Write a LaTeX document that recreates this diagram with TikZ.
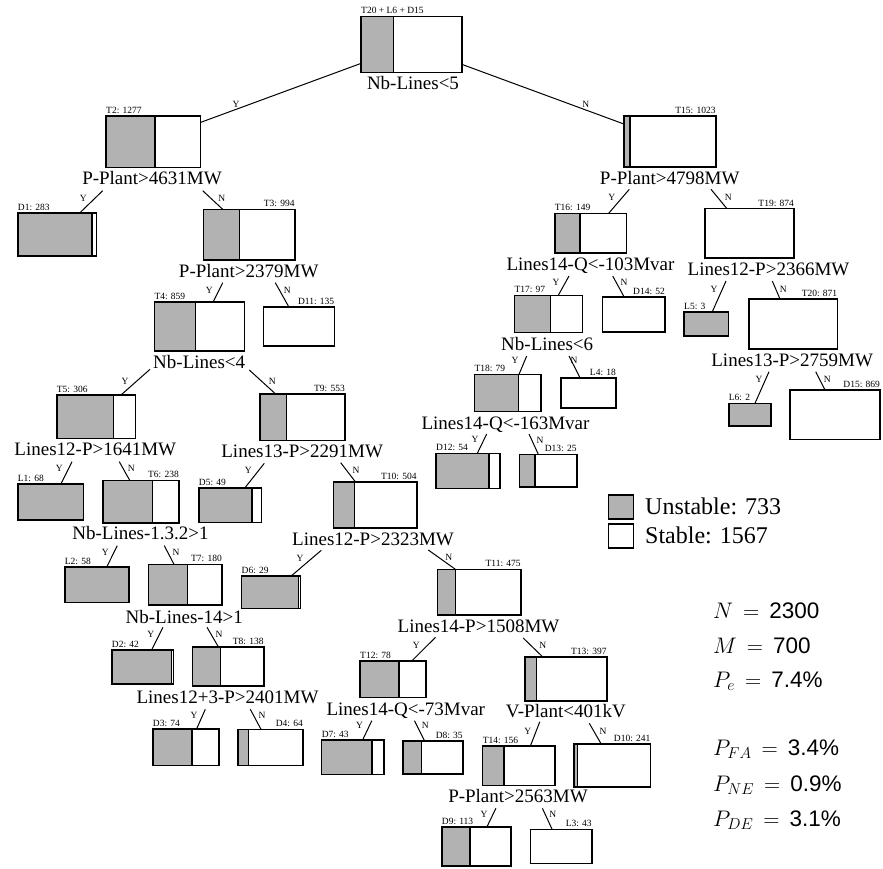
\documentclass[tikz,border=0pt]{standalone}
\usepackage{fix-cm}
\usepackage[no-math]{fontspec}
\setmainfont{Liberation Serif}
\setsansfont{Liberation Sans}
\usetikzlibrary{calc}
\definecolor{unst}{gray}{0.70}
\tikzset{
  tbox/.style={draw, line width=1.6pt, fill=white, inner sep=0pt, outer sep=0pt, anchor=north west},
  greypart/.style={path picture={
    \fill[unst] (path picture bounding box.north west) rectangle ([xshift=#1 pt]path picture bounding box.south west);
    \draw[line width=1.4pt] ([xshift=#1 pt]path picture bounding box.north west) -- ([xshift=#1 pt]path picture bounding box.south west);}},
  tag/.style={font=\fontsize{9.5}{10}\selectfont, inner sep=0pt},
  cond/.style={font=\fontsize{19}{22}\selectfont, inner sep=0pt, text height=13pt, text depth=0pt},
  yn/.style={font=\fontsize{9.5}{10}\selectfont, inner sep=0pt},
  edge/.style={line width=1pt},
  stat/.style={font=\fontsize{22.5}{26}\selectfont, inner sep=0pt, anchor=base west},
  legbox/.style={draw, line width=1.4pt, inner sep=0pt, outer sep=0pt, anchor=north west, minimum width=25pt, minimum height=24pt},
  legtext/.style={font=\fontsize{24}{28}\selectfont, inner sep=0pt, anchor=west, text height=16pt, text depth=0pt}
}
% tree box: name, left, top, right, bottom, x of the grey/white split
\newcommand\tnode[6]{%
  \pgfmathsetmacro\bw{#4-#2}\pgfmathsetmacro\bh{#5-#3}\pgfmathsetmacro\gw{#6-#2}%
  \node[tbox, minimum width=\bw pt, minimum height=\bh pt, greypart=\gw] (#1) at (#2,#3) {};}
% sample counts above a box, left or right aligned
\newcommand\ltag[2]{\node[tag, anchor=base west] (t-#1) at ([yshift=2.5pt]#1.north west) {#2};}
\newcommand\rtag[2]{\node[tag, anchor=base east] (t-#1) at ([yshift=2.5pt]#1.north east) {#2};}
% branch: child, start point, offset on child's top edge, answer, answer position
\newcommand\branch[5]{%
  \coordinate (s-#1) at (#2);
  \draw[edge] (s-#1) -- ([xshift=#3pt]#1.north west);
  \node[yn] (yn-#1) at (#5) {#4};}
% one line of the summary figures
\newcommand\statline[2]{$#1 \,=\, \mbox{\sffamily #2}$}
\begin{document}
\begin{tikzpicture}[x=1pt,y=-1pt]
\useasboundingbox (0,0) rectangle (883,868);

% ---------- boxes ----------
\tnode{root}{361}{16.3}{462}{72.5}{393.3}
\tnode{T2}{106}{115.7}{200.3}{167.3}{155}
\tnode{D1}{17.7}{212.7}{96.3}{256}{92}
\tnode{T3}{203.3}{209.3}{294.7}{259.7}{239.7}
\tnode{T4}{154.3}{301.7}{244.3}{351}{195.7}
\tnode{D11}{263.3}{306.7}{334.3}{346}{263.3}
\tnode{T5}{56.7}{395}{135.3}{438.3}{113.7}
\tnode{T9}{260}{393.7}{345}{440.3}{286.3}
\tnode{L1}{17.7}{483.7}{83.3}{519.7}{83.3}
\tnode{T6}{103}{480.3}{179}{522.7}{152.3}
\tnode{D5}{198.7}{487.7}{261.3}{522.3}{252}
\tnode{T10}{333.3}{481.7}{416.7}{528}{354.7}
\tnode{L2}{64.7}{567}{129}{602.3}{129}
\tnode{T7}{148.3}{564.3}{222}{605}{187.7}
\tnode{D6}{241.5}{576}{300.5}{608.5}{298.5}
\tnode{T11}{437.6}{569.3}{520.8}{615}{455.4}
\tnode{D2}{111.7}{649.7}{173.3}{684}{171.3}
\tnode{T8}{192.3}{646.7}{263.7}{686}{220.7}
\tnode{D3}{152.7}{728.7}{218.7}{765.3}{192}
\tnode{D4}{238}{729.3}{303}{765.3}{248.7}
\tnode{T12}{360}{660.7}{426}{697.3}{399}
\tnode{T13}{525}{656.7}{606.7}{701}{536.7}
\tnode{D7}{321.6}{740}{384}{774.3}{372.1}
\tnode{D8}{403}{741}{462.9}{773.7}{421.6}
\tnode{T14}{482.6}{745.7}{555.1}{785.3}{503.8}
\tnode{D10}{574}{744}{650.6}{786.7}{577.3}
\tnode{D9}{441.7}{826.7}{510.8}{865.7}{469.9}
\tnode{L3}{530.5}{829.3}{591.9}{863.3}{530.5}
\tnode{T15}{624}{116}{715.7}{166.7}{630}
\tnode{T16}{554.7}{213.3}{626.3}{252.7}{580}
\tnode{T19}{704.5}{208.5}{794}{258}{705.5}
\tnode{T17}{514.3}{295.3}{582.3}{332.3}{550.3}
\tnode{D14}{602.3}{296.7}{665}{332}{602.3}
\tnode{L5}{684}{311.7}{728.3}{336}{728.3}
\tnode{T20}{748.3}{299}{837.3}{348.7}{749.3}
\tnode{T18}{474.3}{374.3}{541}{411.3}{518.3}
\tnode{L4}{560.7}{377.7}{616}{408}{560.7}
\tnode{L6}{728.7}{403.3}{770.7}{426}{770.7}
\tnode{D15}{790}{390}{880}{439.3}{790}
\tnode{D12}{436}{453.3}{500}{488.3}{489}
\tnode{D13}{519.3}{454.3}{576.7}{486.7}{535}

% ---------- counts ----------
\ltag{root}{T20 + L6 + D15}
\ltag{T2}{T2: 1277}
\ltag{D1}{D1: 283}
\rtag{T3}{T3: 994}
\ltag{T4}{T4: 859}
\rtag{D11}{D11: 135}
\ltag{T5}{T5: 306}
\rtag{T9}{T9: 553}
\ltag{L1}{L1: 68}
\rtag{T6}{T6: 238}
\ltag{D5}{D5: 49}
\rtag{T10}{T10: 504}
\ltag{L2}{L2: 58}
\rtag{T7}{T7: 180}
\ltag{D6}{D6: 29}
\rtag{T11}{T11: 475}
\ltag{D2}{D2: 42}
\rtag{T8}{T8: 138}
\ltag{D3}{D3: 74}
\rtag{D4}{D4: 64}
\ltag{T12}{T12: 78}
\rtag{T13}{T13: 397}
\ltag{D7}{D7: 43}
\rtag{D8}{D8: 35}
\ltag{T14}{T14: 156}
\rtag{D10}{D10: 241}
\ltag{D9}{D9: 113}
\rtag{L3}{L3: 43}
\rtag{T15}{T15: 1023}
\ltag{T16}{T16: 149}
\rtag{T19}{T19: 874}
\ltag{T17}{T17: 97}
\rtag{D14}{D14: 52}
\ltag{L5}{L5: 3}
\rtag{T20}{T20: 871}
\ltag{T18}{T18: 79}
\rtag{L4}{L4: 18}
\ltag{L6}{L6: 2}
\rtag{D15}{D15: 869}
\ltag{D12}{D12: 54}
\rtag{D13}{D13: 25}

% ---------- split conditions ----------
\node[cond] (q-root) at (413,83.3) {Nb-Lines<5};
\node[cond] (q-T2) at (152,178) {P-Plant>4631MW};
\node[cond] (q-T3) at (248.7,270.7) {P-Plant>2379MW};
\node[cond] (q-T4) at (199.2,361.7) {Nb-Lines<4};
\node[cond] (q-T5) at (95.3,449) {Lines12-P>1641MW};
\node[cond] (q-T9) at (302.2,451.3) {Lines13-P>2291MW};
\node[cond] (q-T6) at (140.5,533.3) {Nb-Lines-1.3.2>1};
\node[cond] (q-T10) at (373,539.3) {Lines12-P>2323MW};
\node[cond] (q-T7) at (184.3,616.7) {Nb-Lines-14>1};
\node[cond] (q-T8) at (227.5,696.7) {Lines12+3-P>2401MW};
\node[cond] (q-T11) at (478.5,626) {Lines14-P>1508MW};
\node[cond] (q-T12) at (405.8,709.3) {Lines14-Q<-73Mvar};
\node[cond] (q-T13) at (565.8,711) {V-Plant<401kV};
\node[cond] (q-T14) at (518,796) {P-Plant>2563MW};
\node[cond] (q-T15) at (669.7,178.3) {P-Plant>4798MW};
\node[cond] (q-T16) at (590.5,264.3) {Lines14-Q<-103Mvar};
\node[cond] (q-T19) at (768.5,268.7) {Lines12-P>2366MW};
\node[cond] (q-T17) at (547.2,344) {Nb-Lines<6};
\node[cond] (q-T20) at (792.2,360) {Lines13-P>2759MW};
\node[cond] (q-T18) at (505.5,423.3) {Lines14-Q<-163Mvar};

% ---------- branches ----------
\draw[edge] ([yshift=-19pt]root.west) -- ([yshift=19pt]T2.east);
\node[yn] (yn-T2) at (236,104) {Y};
\draw[edge] ([yshift=-20pt]root.east) -- ([yshift=17.3pt]T15.west);
\node[yn] (yn-T15) at (585.7,104.3) {N};

\branch{D1}{102.7,190.7}{62.3}{Y}{83.3,198.7}
\branch{T3}{202.7,190.7}{19.4}{N}{221.7,198.7}
\branch{T4}{222.7,282.7}{59}{Y}{209.3,290.7}
\branch{D11}{275.3,282.7}{25.4}{N}{287.3,290.7}
\branch{T5}{150,369.3}{64.3}{Y}{125,381}
\branch{T9}{249.3,370}{15.3}{N}{272.3,381}
\branch{L1}{72,461.7}{43.3}{Y}{59.3,468.7}
\branch{T6}{119.3,461.7}{26.7}{N}{131.3,468.7}
\branch{D5}{264.3,463.3}{46.3}{Y}{248.3,470.7}
\branch{T10}{340.7,462.7}{22}{N}{356,470.7}
\branch{L2}{117.3,545.7}{42}{Y}{105.3,552.3}
\branch{T7}{164.3,545.7}{25.7}{N}{176,552.3}
\branch{D6}{321.3,550.3}{49.7}{Y}{300,558.3}
\branch{T11}{428.3,550}{17.8}{N}{448.7,557.3}
\branch{D2}{163,627.3}{40}{Y}{150.7,634.3}
\branch{T8}{207,627.3}{26}{N}{219,634.3}
\branch{D3}{205.3,709.3}{44}{Y}{194,715}
\branch{D4}{250.3,709.3}{23}{N}{262,715}
\branch{T12}{435.5,637.3}{52}{Y}{416.2,645.7}
\branch{T13}{523.2,638}{17.5}{N}{542.7,645}
\branch{D7}{371.8,720.7}{41}{Y}{359.5,725.7}
\branch{D8}{414.5,720.7}{21.6}{N}{425.3,725.7}
\branch{T14}{539.8,721.7}{47.9}{Y}{527.9,731}
\branch{D10}{589.3,723.3}{27.2}{N}{603,731.7}
\branch{D9}{495.9,808.3}{45.3}{Y}{484,814}
\branch{L3}{542.4,808.3}{21.6}{N}{552.8,814}
\branch{T16}{629.3,189.3}{54}{Y}{611.7,197.3}
\branch{T19}{711,189.3}{22.3}{N}{728.3,197.3}
\branch{T17}{569,276}{44}{Y}{556,282}
\branch{D14}{612.7,276}{21.7}{N}{624,282.7}
\branch{L5}{726,281}{28.3}{Y}{714,289.3}
\branch{T20}{772.3,281}{31.7}{N}{783.3,289.3}
\branch{T18}{526.7,356}{44.7}{Y}{515,360.7}
\branch{L4}{569,356}{19.3}{N}{574,360.7}
\branch{L6}{769,371.7}{26.3}{Y}{759,379.3}
\branch{D15}{815.7,371.7}{35}{N}{827.3,379.3}
\branch{D12}{486.7,434}{41.3}{Y}{475,439.3}
\branch{D13}{529,434}{19}{N}{540,440}

% ---------- legend ----------
\node[legbox, fill=unst] (kU) at (608.3,495) {};
\node[legbox, fill=white] (kS) at (608.3,524) {};
\node[legtext] (kUt) at (645,506.5) {Unstable: 733};
\node[legtext] (kSt) at (645,535.5) {Stable: 1567};

% ---------- statistics ----------
\node[stat] (sN) at (713,618.3) {\statline{N}{2300}};
\node[stat] (sM) at (713,653.3) {\statline{M}{700}};
\node[stat] (sPe) at (713,687) {\statline{P_e}{7.4\%}};
\node[stat] (sFA) at (713,755.5) {\statline{P_{FA}}{3.4\%}};
\node[stat] (sNE) at (713,791.5) {\statline{P_{NE}}{0.9\%}};
\node[stat] (sDE) at (713,826.5) {\statline{P_{DE}}{3.1\%}};
\end{tikzpicture}
\end{document}
